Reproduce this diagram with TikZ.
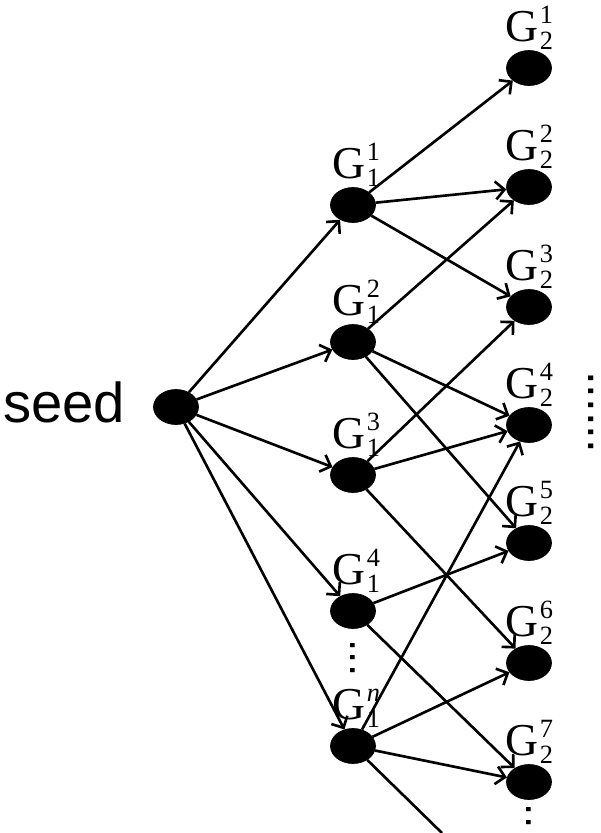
\documentclass[tikz,border=0pt]{standalone}
\usepackage{fontspec}
\setmainfont{Liberation Serif}
\newfontfamily\seedfont{Liberation Sans}
\usetikzlibrary{positioning,arrows.meta,shapes.geometric}
% generation symbol: G with lower index and upper index
\newcommand{\gsym}[2]{G\kern1pt\rlap{\raisebox{10pt}{\fontsize{15}{15}\selectfont #2}}%
  \raisebox{-5pt}{\fontsize{15}{15}\selectfont #1}}
\tikzset{
  vert/.style  = {ellipse, fill=black, draw=black, minimum width=0.9cm,
                  minimum height=0.7cm, inner sep=0pt},
  gname/.style = {inner sep=0pt, font=\fontsize{26}{30}\selectfont},
  link/.style  = {-{Straight Barb[length=1.8mm,width=3.6mm]}, line width=1.5pt},
  more/.style  = {inner sep=0pt, rotate=-90, font=\seedfont\fontsize{25}{30}\selectfont},
}

\begin{document}
\begin{tikzpicture}[x=0.02cm, y=-0.02cm]
\useasboundingbox (0,0) rectangle (600,833);

% seed
\node[vert] (seed) at (176,407) {};
\node[anchor=base, inner sep=0pt, font=\seedfont\fontsize{32}{38}\selectfont]
  (seedtxt) at (64,422) {seed};

% first generation
\node[vert] (a1) at (353,205) {};
\node[vert] (a2) at (353,342) {};
\node[vert] (a3) at (353,475) {};
\node[vert] (a4) at (353,611) {};
\node[vert] (an) at (353,746) {};
\node[gname, above=0pt of a1, xshift=0.06cm] (la1) {\gsym{1}{1}};
\node[gname, above=0pt of a2, xshift=0.06cm] (la2) {\gsym{1}{2}};
\node[gname, above=0pt of a3, xshift=0.06cm] (la3) {\gsym{1}{3}};
\node[gname, above=0pt of a4, xshift=0.06cm] (la4) {\gsym{1}{4}};
\node[gname, above=0pt of an, xshift=0.06cm] (lan) {\gsym{1}{\textit{n}}};
\node[more] (adots) at (353,658) {...};

% second generation
\node[vert] (b1) at (529,68) {};
\node[vert] (b2) at (529,187) {};
\node[vert] (b3) at (529,307) {};
\node[vert] (b4) at (529,425) {};
\node[vert] (b5) at (529,543) {};
\node[vert] (b6) at (529,663) {};
\node[vert] (b7) at (529,782) {};
\node[gname, above=0pt of b1] (lb1) {\gsym{2}{1}};
\node[gname, above=0pt of b2] (lb2) {\gsym{2}{2}};
\node[gname, above=0pt of b3] (lb3) {\gsym{2}{3}};
\node[gname, above=0pt of b4] (lb4) {\gsym{2}{4}};
\node[gname, above=0pt of b5] (lb5) {\gsym{2}{5}};
\node[gname, above=0pt of b6] (lb6) {\gsym{2}{6}};
\node[gname, above=0pt of b7] (lb7) {\gsym{2}{7}};
\node[more] (bdots) at (529,816) {..};
\node[more, font=\seedfont\fontsize{28}{32}\selectfont] (rdots) at (591,412) {......};

% connections
\foreach \g in {a1,a2,a3,a4,an}
  \draw[link] (seed) -- (\g);
\foreach \g in {b1,b2,b3}
  \draw[link] (a1) -- (\g);
\foreach \g in {b2,b4,b5}
  \draw[link] (a2) -- (\g);
\foreach \g in {b3,b4,b6}
  \draw[link] (a3) -- (\g);
\foreach \g in {b5,b7}
  \draw[link] (a4) -- (\g);
\foreach \g in {b4,b6,b7}
  \draw[link] (an) -- (\g);
\coordinate (tail) at (442,833);
\draw[line width=1.5pt] (an) -- (tail);

\end{tikzpicture}
\end{document}
